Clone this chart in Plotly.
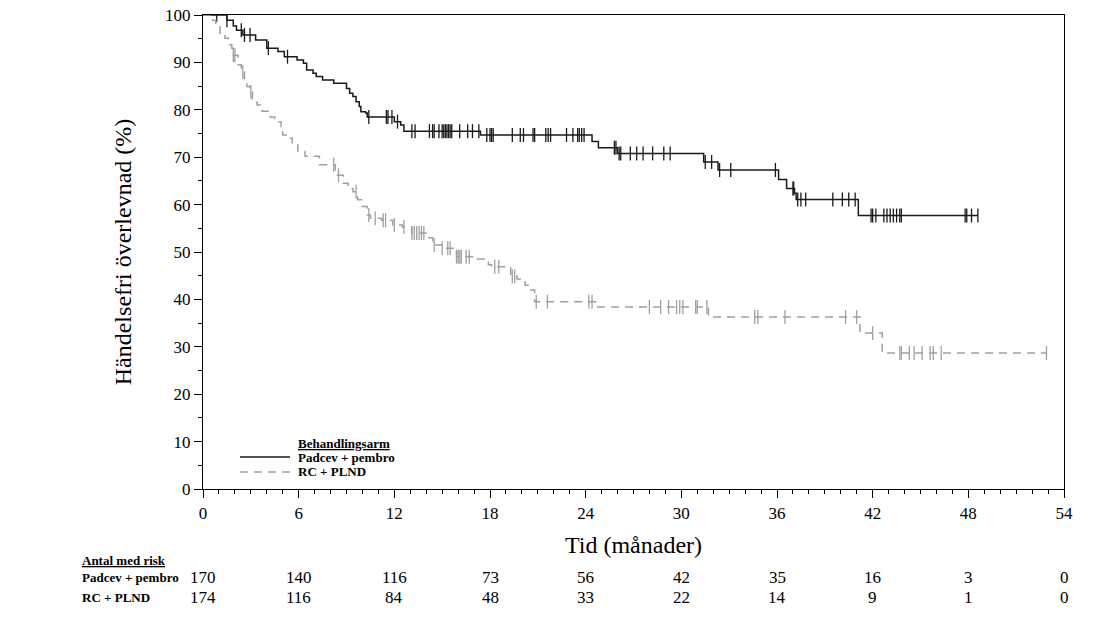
import numpy as np
import plotly.graph_objects as go

# Kaplan-Meier steps (time in months, survival in %)
padcev_t = [0, 1.5, 1.9, 2.1, 2.5, 3.3, 4.0, 4.7, 5.1, 5.9, 6.3, 6.5, 6.9, 7.1, 7.5,
            8.2, 9.0, 9.2, 9.4, 9.6, 9.8, 9.9, 10.2, 10.3, 12.0, 12.4, 12.6, 17.4,
            24.4, 24.8, 26.0, 31.4, 32.3, 36.1, 36.6, 37.1, 37.2, 41.1, 48.6]
padcev_s = [100, 98.9, 97.7, 96.8, 95.8, 94.7, 93.0, 92.3, 91.2, 90.5, 89.8, 88.4, 87.7,
            87.0, 86.3, 85.6, 84.5, 83.5, 82.8, 81.7, 80.7, 79.6, 79.3, 78.5, 77.5, 76.8,
            75.5, 74.7, 73.3, 72.0, 70.8, 69.0, 67.3, 65.3, 63.4, 62.4, 61.1, 57.7, 57.7]
padcev_cens = [0.86, 1.5, 2.4, 2.6, 2.95, 4.1, 5.3, 10.4, 11.5, 11.6, 11.85, 12.2, 13.1,
               13.3, 14.2, 14.4, 14.5, 14.8, 15.0, 15.1, 15.2, 15.3, 15.4, 15.5, 15.6,
               16.1, 16.6, 16.9, 17.3, 17.8, 18.0, 18.1, 18.2, 19.4, 19.9, 20.1, 20.7,
               20.8, 21.5, 21.65, 21.8, 22.8, 23.2, 23.5, 23.6, 23.75, 23.9, 25.8, 25.9,
               26.1, 26.2, 26.8, 27.2, 27.6, 28.2, 28.9, 29.3, 31.5, 31.9, 32.4, 33.1,
               35.9, 37.0, 37.05, 37.3, 37.5, 37.8, 39.5, 40.1, 40.5, 40.9, 41.9, 42.0,
               42.2, 42.7, 42.9, 43.1, 43.3, 43.5, 43.7, 43.8, 47.8, 47.9, 48.2, 48.6]

rc_t = [0, 0.45, 0.8, 1.07, 1.38, 1.6, 1.8, 1.9, 2.2, 2.4, 2.6, 2.75, 2.95, 3.1, 3.4,
        3.7, 4.2, 4.5, 4.9, 5.0, 5.3, 5.6, 5.95, 6.4, 7.3, 8.3, 8.8, 9.1, 9.4, 9.7,
        10.0, 10.3, 10.5, 11.2, 11.9, 12.5, 13.1, 14.1, 14.4, 15.0, 15.7, 15.9, 17.2,
        17.9, 18.1, 19.3, 19.7, 20.2, 20.5, 20.8, 24.7, 31.7, 41.2, 42.6, 52.9]
rc_s = [100, 98.9, 97.9, 96.1, 95.1, 93.7, 93.0, 91.5, 89.5, 88.0, 86.3, 84.9, 83.8,
        81.6, 81.0, 79.7, 78.5, 77.5, 76.4, 74.7, 74.0, 72.6, 71.2, 70.2, 68.4, 66.2,
        64.5, 63.4, 62.7, 61.0, 59.6, 57.8, 57.1, 56.7, 55.7, 55.3, 54.0, 53.0, 51.5,
        50.8, 50.1, 49.0, 48.5, 47.3, 46.9, 44.9, 44.3, 43.0, 42.0, 39.5, 38.4, 36.3,
        32.9, 28.7, 28.7]
rc_cens = [1.9, 2.0, 2.5, 3.0, 8.2, 8.5, 9.6, 10.4, 10.8, 11.3, 11.45, 12.0, 12.6, 13.1,
           13.25, 13.4, 13.55, 13.7, 13.85, 14.5, 15.0, 15.35, 15.5, 15.9, 16.0, 16.1,
           16.2, 16.5, 16.7, 18.3, 18.55, 19.4, 19.55, 20.9, 21.6, 24.2, 24.4, 28.0,
           28.7, 29.2, 29.7, 29.9, 30.1, 30.9, 31.0, 31.6, 34.6, 34.8, 36.5, 40.3, 41.0,
           42.0, 43.7, 43.8, 44.3, 44.6, 45.1, 45.6, 45.8, 46.3, 52.9]

risk_times = [0, 6, 12, 18, 24, 30, 36, 42, 48, 54]
risk_padcev = [170, 140, 116, 73, 56, 42, 35, 16, 3, 0]
risk_rc = [174, 116, 84, 48, 33, 22, 14, 9, 1, 0]

FONT = "Liberation Serif, Times New Roman, serif"
BLACK = "#1a1a1a"
GRAY = "#a0a0a0"


def at(times, surv, pts):
    # survival level of the step curve at each censor time
    idx = np.searchsorted(times, pts, side="right") - 1
    return [surv[i] for i in idx]


fig = go.Figure()

fig.add_trace(go.Scatter(x=padcev_t, y=padcev_s, mode="lines", line_shape="hv",
                         line=dict(color=BLACK, width=1.5), name="Padcev + pembro"))
fig.add_trace(go.Scatter(x=padcev_cens, y=at(padcev_t, padcev_s, padcev_cens),
                         mode="markers", hoverinfo="skip",
                         marker=dict(symbol="line-ns", size=10,
                                     line=dict(color=BLACK, width=1.3))))

fig.add_trace(go.Scatter(x=rc_t, y=rc_s, mode="lines", line_shape="hv",
                         line=dict(color=GRAY, width=1.5, dash="8px,6px"),
                         name="RC + PLND"))
fig.add_trace(go.Scatter(x=rc_cens, y=at(rc_t, rc_s, rc_cens),
                         mode="markers", hoverinfo="skip",
                         marker=dict(symbol="line-ns", size=10,
                                     line=dict(color=GRAY, width=1.3))))

fig.update_xaxes(range=[0, 54], tickvals=risk_times, ticks="outside", ticklen=8,
                 tickwidth=1.3, tickcolor="black", showline=True, linecolor="black",
                 linewidth=1.3, mirror=True, showgrid=False, zeroline=False,
                 automargin=False,
                 minor=dict(dtick=1, ticks="outside", ticklen=4, tickcolor="black",
                            tickwidth=1),
                 tickfont=dict(size=17),
                 title=dict(text="Tid (månader)", font=dict(size=24), standoff=14))
fig.update_yaxes(range=[0, 100], dtick=10, ticks="outside", ticklen=8, tickwidth=1.3,
                 tickcolor="black", showline=True, linecolor="black", linewidth=1.3,
                 mirror=True, showgrid=False, zeroline=False, automargin=False,
                 minor=dict(dtick=5, ticks="outside", ticklen=4, tickcolor="black",
                            tickwidth=1),
                 tickfont=dict(size=17),
                 title=dict(text="Händelsefri överlevnad (%)", font=dict(size=24),
                            standoff=26))

# hand-drawn legend in the lower left of the plot
fig.add_annotation(x=0.108, y=0.097, xref="paper", yref="paper", xanchor="left",
                   yanchor="middle", showarrow=False,
                   text="<b><u>Behandlingsarm</u></b>", font=dict(size=13))
for label, col, dash, yy in [("Padcev + pembro", BLACK, "solid", 0.0675),
                             ("RC + PLND", GRAY, "8px,6px", 0.036)]:
    fig.add_shape(type="line", xref="paper", yref="paper", x0=0.043, x1=0.101,
                  y0=yy, y1=yy, line=dict(color=col, width=1.5, dash=dash))
    fig.add_annotation(x=0.108, y=yy, xref="paper", yref="paper", xanchor="left",
                       yanchor="middle", showarrow=False, text=f"<b>{label}</b>",
                       font=dict(size=13))

# number at risk table
fig.add_annotation(x=-0.143, y=-0.150, xref="paper", yref="paper", xanchor="left",
                   yanchor="middle", showarrow=False,
                   text="<b><u>Antal med risk</u></b>", font=dict(size=13))
for label, counts, yy in [("Padcev + pembro", risk_padcev, -0.186),
                          ("RC + PLND", risk_rc, -0.228)]:
    fig.add_annotation(x=-0.143, y=yy, xref="paper", yref="paper", xanchor="left",
                       yanchor="middle", showarrow=False, text=f"<b>{label}</b>",
                       font=dict(size=13))
    for t, n in zip(risk_times, counts):
        fig.add_annotation(x=t, y=yy, xref="x", yref="paper", xanchor="center",
                           yanchor="middle", showarrow=False, text=str(n),
                           font=dict(size=17))

fig.update_layout(
    width=1099, height=619,
    margin=dict(l=203, r=35, t=15, b=130),
    paper_bgcolor="white", plot_bgcolor="white",
    font=dict(family=FONT, color="black"),
    showlegend=False,
)

# drop the default body margin so the figure sits at the window corner
fig.write_html("out.html", config={"displayModeBar": False},
               post_script="document.body.style.margin='0';")
